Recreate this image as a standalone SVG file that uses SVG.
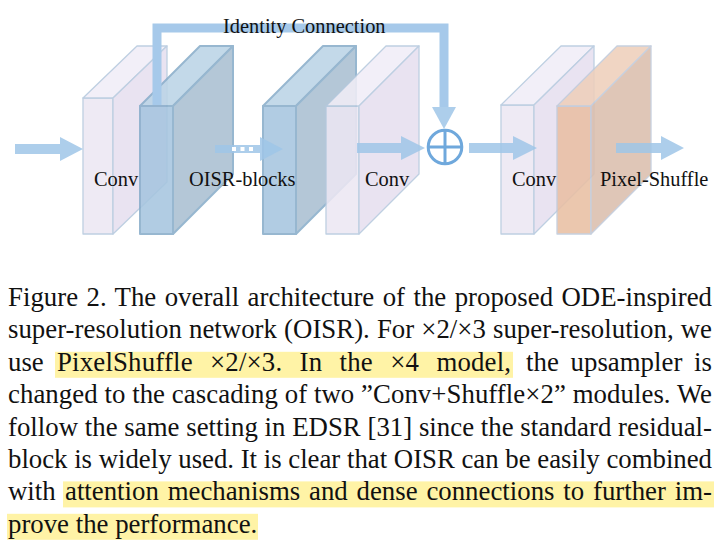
<svg xmlns="http://www.w3.org/2000/svg" width="728" height="550" viewBox="0 0 728 550">
<style>
.lav .f{fill:#ece7f3}
.lav .s{fill:#e6dff0}
.lav .t{fill:#f1edf7}
.lav polygon,.lav rect{stroke:#b5c9de;stroke-width:1.3;stroke-linejoin:round}
.blu .f{fill:#a6c5df}
.blu .s{fill:#a9bfd2}
.blu .t{fill:#bbd4e6}
.blu polygon,.blu rect{stroke:#88adca;stroke-width:2;stroke-linejoin:round}
.org .f{fill:#e9bfa3}
.org .s{fill:#dbbead}
.org .t{fill:#eecfbb}
.org polygon,.org rect{stroke:#bfcadb;stroke-width:1.3;stroke-linejoin:round}
.blk{opacity:0.87}
.arr{fill:#9fc5e8;opacity:0.85}
.bar{fill:none;stroke:#a6c9ea;stroke-width:9;stroke-linejoin:miter}
.lbl{font-family:"Liberation Serif","Times New Roman",serif;font-size:20.4px;fill:#111}
.cap{font-family:"Liberation Serif","Times New Roman",serif;font-size:26.8px;fill:#111}
.hl{fill:#fff3a6}
</style>
<rect width="728" height="550" fill="#ffffff"/>

<g id="conv1" class="lav blk">
  <rect class="f" x="83" y="98" width="30" height="136"/>
  <polygon class="t" points="83,98 113,98 167,46 137,46"/>
  <polygon class="s" points="113,98 167,46 167,182 113,234"/>
</g>
<g id="oisr1" class="blu blk">
  <rect class="f" x="140" y="106" width="33" height="128"/>
  <polygon class="t" points="140,106 173,106 233,46 200,46"/>
  <polygon class="s" points="173,106 233,46 233,174 173,234"/>
</g>
<g id="oisr2" class="blu blk">
  <rect class="f" x="263" y="106" width="33" height="128"/>
  <polygon class="t" points="263,106 296,106 356,46 323,46"/>
  <polygon class="s" points="296,106 356,46 356,174 296,234"/>
</g>
<g id="conv2" class="lav blk">
  <rect class="f" x="326" y="106" width="33" height="128"/>
  <polygon class="t" points="326,106 359,106 419,46 386,46"/>
  <polygon class="s" points="359,106 419,46 419,174 359,234"/>
</g>
<g id="conv3" class="lav blk">
  <rect class="f" x="501" y="105" width="33" height="129"/>
  <polygon class="t" points="501,105 534,105 594,46 561,46"/>
  <polygon class="s" points="534,105 594,46 594,174 534,234"/>
</g>
<g id="pixelshuffle" class="org blk">
  <rect class="f" x="557" y="106" width="34" height="128"/>
  <polygon class="t" points="557,106 591,106 651,46 617,46"/>
  <polygon class="s" points="591,106 651,46 651,174 591,234"/>
</g>

<g id="connectors">
  <path class="bar" d="M157,105 V28 H444 V107"/>
  <polygon class="arr" points="432,107 456,107 444,129"/>
  <path class="arr" d="M15,144 H60 V137 L83,149 L60,161 V154 H15 Z"/>
  <path class="arr" d="M215,145 H260 V137 L283,149 L260,161 V153 H215 Z"/>
  <rect x="232" y="147" width="4" height="4" fill="#ffffff"/>
  <rect x="240.5" y="147" width="4" height="4" fill="#ffffff"/>
  <rect x="249" y="147" width="4" height="4" fill="#ffffff"/>
  <path class="arr" d="M357,143 H401 V136 L425,148 L401,160 V153 H357 Z"/>
  <path class="arr" d="M469,143 H513 V136 L537,148 L513,160 V153 H469 Z"/>
  <path class="arr" d="M616,143 H661 V136 L684,148 L661,160 V153 H616 Z"/>
</g>

<g id="sum">
  <circle cx="445" cy="147" r="16.8" fill="#ffffff" stroke="#6fa8dc" stroke-width="3"/>
  <line x1="428" y1="147" x2="462" y2="147" stroke="#6fa8dc" stroke-width="3"/>
  <line x1="445" y1="130" x2="445" y2="164" stroke="#6fa8dc" stroke-width="3"/>
</g>

<g id="labels">
  <text class="lbl" x="223" y="33">Identity Connection</text>
  <text class="lbl" x="94" y="186">Conv</text>
  <text class="lbl" x="189" y="186">OISR-blocks</text>
  <text class="lbl" x="365" y="186">Conv</text>
  <text class="lbl" x="512" y="186">Conv</text>
  <text class="lbl" x="600" y="186">Pixel-Shuffle</text>
</g>

<g id="caption">
  <rect class="hl" x="55" y="351.8" width="458" height="26"/>
  <rect class="hl" x="63" y="481.4" width="651" height="26"/>
  <rect class="hl" x="7" y="513.8" width="251" height="26"/>
  <text class="cap" x="8" y="306" textLength="704" lengthAdjust="spacing" word-spacing="1.7">Figure 2. The overall architecture of the proposed ODE-inspired</text>
  <text class="cap" x="8" y="338.4" textLength="704" lengthAdjust="spacing" word-spacing="0.4">super-resolution network (OISR). For ×2/×3 super-resolution, we</text>
  <text class="cap" x="8" y="370.8">use</text>
  <text class="cap" x="57" y="370.8" textLength="454" lengthAdjust="spacing" word-spacing="10.4">PixelShuffle ×2/×3. In the ×4 model,</text>
  <text class="cap" x="526" y="370.8" textLength="186" lengthAdjust="spacing" word-spacing="5">the upsampler is</text>
  <text class="cap" x="8" y="403.2" textLength="704" lengthAdjust="spacing">changed to the cascading of two ”Conv+Shuffle×2” modules. We</text>
  <text class="cap" x="8" y="435.6" textLength="704" lengthAdjust="spacing">follow the same setting in EDSR [31] since the standard residual-</text>
  <text class="cap" x="8" y="468" textLength="704" lengthAdjust="spacing">block is widely used. It is clear that OISR can be easily combined</text>
  <text class="cap" x="8" y="500.4">with</text>
  <text class="cap" x="65" y="500.4" textLength="647" lengthAdjust="spacing" word-spacing="2.1">attention mechanisms and dense connections to further im-</text>
  <text class="cap" x="8" y="532.8">prove the performance.</text>
</g>
</svg>
